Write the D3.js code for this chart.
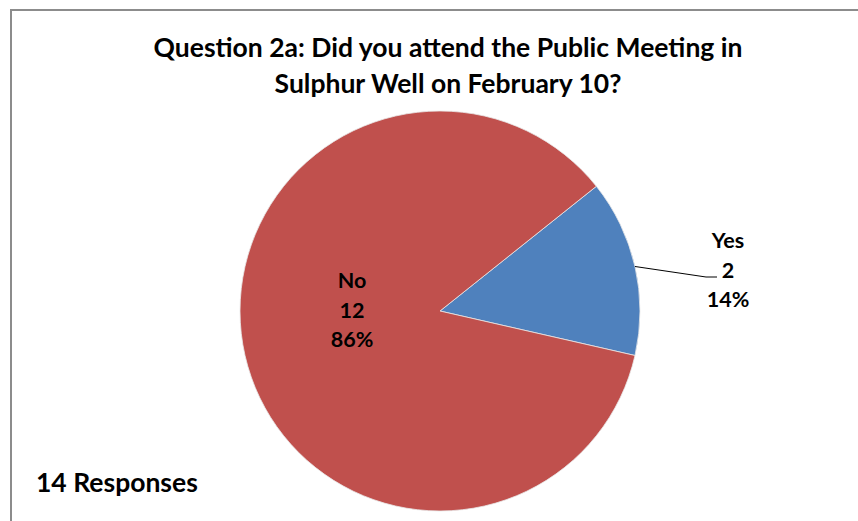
<!DOCTYPE html>
<html lang="en">
<head>
    <meta charset="UTF-8">
    <title>Question 2a</title>
    <style>
        body {
            margin: 0;
            overflow: hidden;
            background: #fff;
        }
        text {
            font-family: Lato, "Open Sans", sans-serif;
            font-weight: bold;
            fill: #000;
        }
        .title { font-size: 26.5px; }
        .label { font-size: 21.5px; }
        .note { font-size: 26.5px; }
    </style>
</head>
<body>
    <svg id="chart"></svg>
    <script src="https://d3js.org/d3.v7.min.js"></script>
    <script>
        // chart data
        const categories = ["Yes", "No"];
        const counts = [2, 12];
        const percents = ["14%", "86%"];
        const titleLines = ["Question 2a: Did you attend the Public Meeting in", "Sulphur Well on February 10?"];
        const note = "14 Responses";

        const width = 858;
        const height = 521;
        const colors = d3.scaleOrdinal().domain(categories).range(["#4F81BD", "#C0504D"]);

        const svg = d3.select("#chart")
            .attr("width", width)
            .attr("height", height);

        // chart frame (spreadsheet chart area)
        svg.append("rect")
            .attr("x", 11)
            .attr("y", 10)
            .attr("width", width + 20)
            .attr("height", height + 20)
            .attr("fill", "#fff")
            .attr("stroke", "#8c8c8c")
            .attr("stroke-width", 2);

        const title = svg.append("text")
            .attr("class", "title")
            .attr("text-anchor", "middle");
        title.selectAll("tspan")
            .data(titleLines)
            .enter()
            .append("tspan")
            .attr("x", 448)
            .attr("y", (d, i) => 57 + i * 36)
            .text(d => d);

        const cx = 440, cy = 311, r = 200;
        const total = d3.sum(counts);

        const pie = d3.pie()
            .sort(null)
            .startAngle(2 * Math.PI * counts[0] / total)
            .endAngle(2 * Math.PI * counts[0] / total + 2 * Math.PI);
        const arcs = pie(counts);
        const arc = d3.arc().innerRadius(0).outerRadius(r);

        const g = svg.append("g").attr("transform", `translate(${cx},${cy})`);
        g.selectAll("path")
            .data(arcs)
            .enter()
            .append("path")
            .attr("d", arc)
            .attr("fill", (d, i) => colors(categories[i]))
            .attr("stroke", "#e8e8e8")
            .attr("stroke-width", 0.8);

        // label positions: Yes outside with leader, No inside
        const labelPos = [[728, 241], [352, 281]];

        // leader line for Yes
        const mid = (arcs[0].startAngle + arcs[0].endAngle) / 2;
        const ex = Math.sin(mid) * r, ey = -Math.cos(mid) * r;
        g.append("polyline")
            .attr("points", [[ex, ey], [706 - cx, 277 - cy], [717 - cx, 277 - cy]].map(p => p.join(",")).join(" "))
            .attr("fill", "none")
            .attr("stroke", "#000")
            .attr("stroke-width", 1);

        categories.forEach((c, i) => {
            const t = svg.append("text")
                .attr("class", "label")
                .attr("text-anchor", "middle");
            [c, counts[i], percents[i]].forEach((s, j) => {
                t.append("tspan")
                    .attr("x", labelPos[i][0])
                    .attr("y", labelPos[i][1] + 7 + j * 29.5)
                    .text(s);
            });
        });

        svg.append("text")
            .attr("class", "note")
            .attr("x", 36)
            .attr("y", 492)
            .text(note);
    </script>
</body>
</html>
